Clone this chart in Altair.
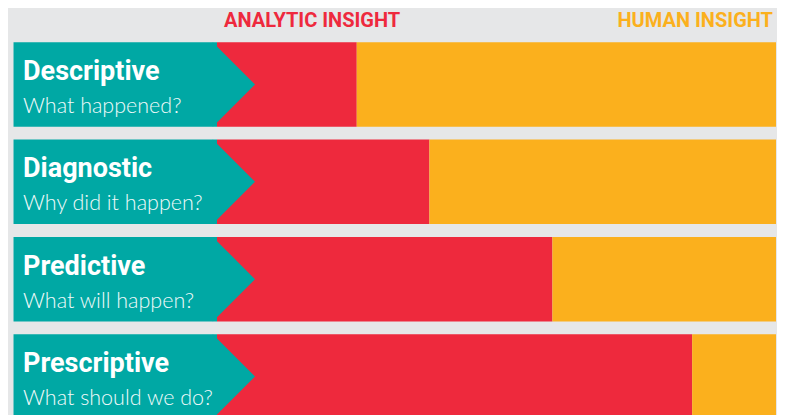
import altair as alt
import pandas as pd

categories = ["Descriptive", "Diagnostic", "Predictive", "Prescriptive"]
questions = ["What happened?", "Why did it happen?", "What will happen?", "What should we do?"]
analytic = [25, 38, 60, 85]
human = [75, 62, 40, 15]
headers = ["ANALYTIC INSIGHT", "HUMAN INSIGHT"]

BG = "#e6e7e8"
TEAL = "#00a8a4"
RED = "#ee293d"
ORANGE = "#fbb01d"

rows = []
for c, a, h in zip(categories, analytic, human):
    rows.append({"cat": c, "seg": "Analytic", "start": 0, "end": a})
    rows.append({"cat": c, "seg": "Human", "start": a, "end": a + h})
seg_df = pd.DataFrame(rows)

lab_df = pd.DataFrame({"cat": categories, "q": questions,
                       "box_start": [-36.4] * 4, "box_end": [0] * 4})

hdr_df = pd.DataFrame({"text": headers, "x": [0, 100],
                       "seg": ["Analytic", "Human"]})

xscale = alt.Scale(domain=[0, 100], range=[209, 768], nice=False, zero=False)
yscale = alt.Scale(domain=categories, range=[34.3, 410.7], paddingInner=0.1316, paddingOuter=0)
color = alt.Color("seg:N", scale=alt.Scale(domain=["Analytic", "Human"], range=[RED, ORANGE]), legend=None)

Y = alt.Y("cat:N", scale=yscale, axis=None, sort=categories)

bars = alt.Chart(seg_df).mark_bar(cornerRadius=0, strokeWidth=0).encode(
    x=alt.X("start:Q", scale=xscale, axis=None),
    x2="end:Q",
    y=Y,
    color=color,
)

box = alt.Chart(lab_df).mark_bar(color=TEAL, strokeWidth=0).encode(
    x=alt.X("box_start:Q", scale=xscale, axis=None),
    x2="box_end:Q",
    y=Y,
)

arrow = alt.Chart(lab_df).mark_point(
    shape="M-0.1,-1L0.9,0L-0.1,1Z", size=7140, filled=True, color=TEAL,
    opacity=1, strokeWidth=0,
).encode(
    x=alt.X("box_end:Q", scale=xscale, axis=None),
    y=Y,
)

title_txt = alt.Chart(lab_df).mark_text(
    align="left", baseline="alphabetic", font="Roboto", fontWeight="bold",
    fontSize=27, color="white", dy=-4.5,
).encode(x=alt.value(15), y=Y, text="cat:N")

q_txt = alt.Chart(lab_df).mark_text(
    align="left", baseline="alphabetic", font="Lato", fontWeight=300,
    fontSize=21.5, color="#f0fafa", dy=28.5,
).encode(x=alt.value(15), y=Y, text="q:N")

hdr_a = alt.Chart(hdr_df).transform_filter(alt.datum.seg == "Analytic").mark_text(
    align="left", baseline="alphabetic", font="Roboto", fontWeight="bold",
    fontSize=20, dx=7,
).encode(x=alt.X("x:Q", scale=xscale, axis=None), y=alt.value(19), text="text:N", color=color)

hdr_h = alt.Chart(hdr_df).transform_filter(alt.datum.seg == "Human").mark_text(
    align="right", baseline="alphabetic", font="Roboto", fontWeight="bold",
    fontSize=20, dx=-3,
).encode(x=alt.X("x:Q", scale=xscale, axis=None), y=alt.value(19), text="text:N", color=color)

chart = alt.layer(bars, box, arrow, title_txt, q_txt, hdr_a, hdr_h).properties(
    width=769, height=407, background=BG, padding=0,
    autosize=alt.AutoSizeParams(type="none"),
).configure_view(stroke=None)

chart.save("out.html", embed_options={"renderer": "svg", "actions": False})
